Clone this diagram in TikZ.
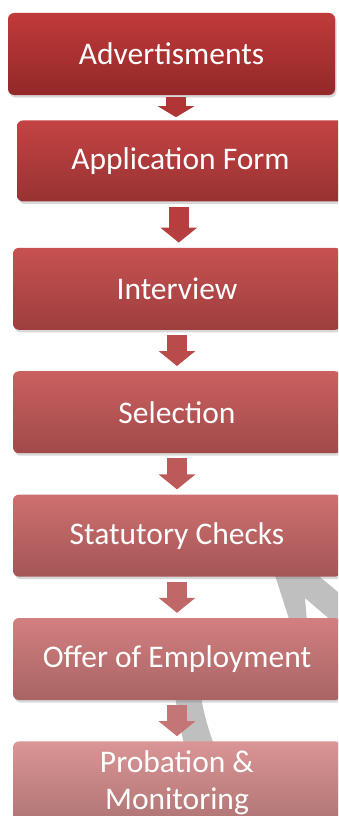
\documentclass[tikz,border=0pt]{standalone}
\usepackage{fontspec}
\newfontfamily\stagefont{Carlito}
\usepackage{tikz}
\usetikzlibrary{arrows.meta,calc,positioning,shadows}
\definecolor{stageAtop}{HTML}{C13A3A}
\definecolor{stageAbot}{HTML}{932828}
\definecolor{stageBtop}{HTML}{C44343}
\definecolor{stageBbot}{HTML}{983232}
\definecolor{stageCtop}{HTML}{C75151}
\definecolor{stageCbot}{HTML}{9E3E3E}
\definecolor{stageDtop}{HTML}{CA6060}
\definecolor{stageDbot}{HTML}{A14949}
\definecolor{stageEtop}{HTML}{CE6F6F}
\definecolor{stageEbot}{HTML}{A45656}
\definecolor{stageFtop}{HTML}{D37F7F}
\definecolor{stageFbot}{HTML}{A86464}
\definecolor{stageGtop}{HTML}{DA9595}
\definecolor{stageGbot}{HTML}{B07474}
\definecolor{cyclegray}{HTML}{BFBFBF}

\begin{document}
\begin{tikzpicture}[x=1pt,y=-1pt,>=Latex,
    stage/.style={rounded corners=6pt,minimum width=327pt,minimum height=82pt,
      align=center,text=white,font=\stagefont\fontsize{31.5}{37}\selectfont,
      drop shadow={opacity=0.3,shadow xshift=1.5pt,shadow yshift=-2.5pt}},
    flow/.style={line width=20pt,-{Triangle[width=36pt,length=15pt]},
      shorten <=5pt,shorten >=5pt}]
    \useasboundingbox (0,0) rectangle (338,816);
    \fill[white] (0,0) rectangle (338,816);
    \clip (0,0) rectangle (338,816);
    % bits of the cycle arrow behind the stages
    \fill[cyclegray] (274,572) -- (314,572) -- (338,592) -- (338,622) -- (333,622)
      -- (305,598) -- (307,622) -- (290,622) -- cycle;
    \fill[cyclegray] (174,690) .. controls (178,715) and (181,730) .. (184,745)
      -- (214,745) .. controls (208,728) and (203,712) .. (200,690) -- cycle;
    % stages
    \node[stage,top color=stageAtop,bottom color=stageAbot] (advert) at (171.5,54) {Advertisments};
    \node[stage,top color=stageBtop,bottom color=stageBbot,minimum height=81pt,
      below=25pt of advert,xshift=9pt] (form) {Application Form};
    \node[stage,top color=stageCtop,bottom color=stageCbot,minimum width=328pt,
      below=46pt of form,xshift=-3.5pt] (interview) {Interview};
    \node[stage,top color=stageDtop,bottom color=stageDbot,minimum width=328pt,
      below=41pt of interview] (selection) {Selection};
    \node[stage,top color=stageEtop,bottom color=stageEbot,minimum width=328pt,
      below=41pt of selection] (checks) {Statutory Checks};
    \node[stage,top color=stageFtop,bottom color=stageFbot,minimum width=328pt,
      below=41pt of checks] (offer) {Offer of Employment};
    \node[stage,top color=stageGtop,bottom color=stageGbot,minimum width=328pt,
      below=41pt of offer] (probation) {Probation \&\\Monitoring};
    % block arrows between stages
    \coordinate (mid) at ($(advert.south)!.5!(form.north)$);
    \draw[flow,-{Triangle[width=36pt,length=11pt]},shorten <=2pt,shorten >=3pt,color=stageAtop!92!black]
      (mid |- advert.south) -- (mid |- form.north);
    \foreach \a/\b/\c in {form/interview/stageBtop,interview/selection/stageCtop,
        selection/checks/stageDtop,checks/offer/stageEtop,offer/probation/stageFtop} {
      \coordinate (mid) at ($(\a.south)!.5!(\b.north)$);
      \draw[flow,color=\c!93!black] (mid |- \a.south) -- (mid |- \b.north);
    }
  \end{tikzpicture}
\end{document}
